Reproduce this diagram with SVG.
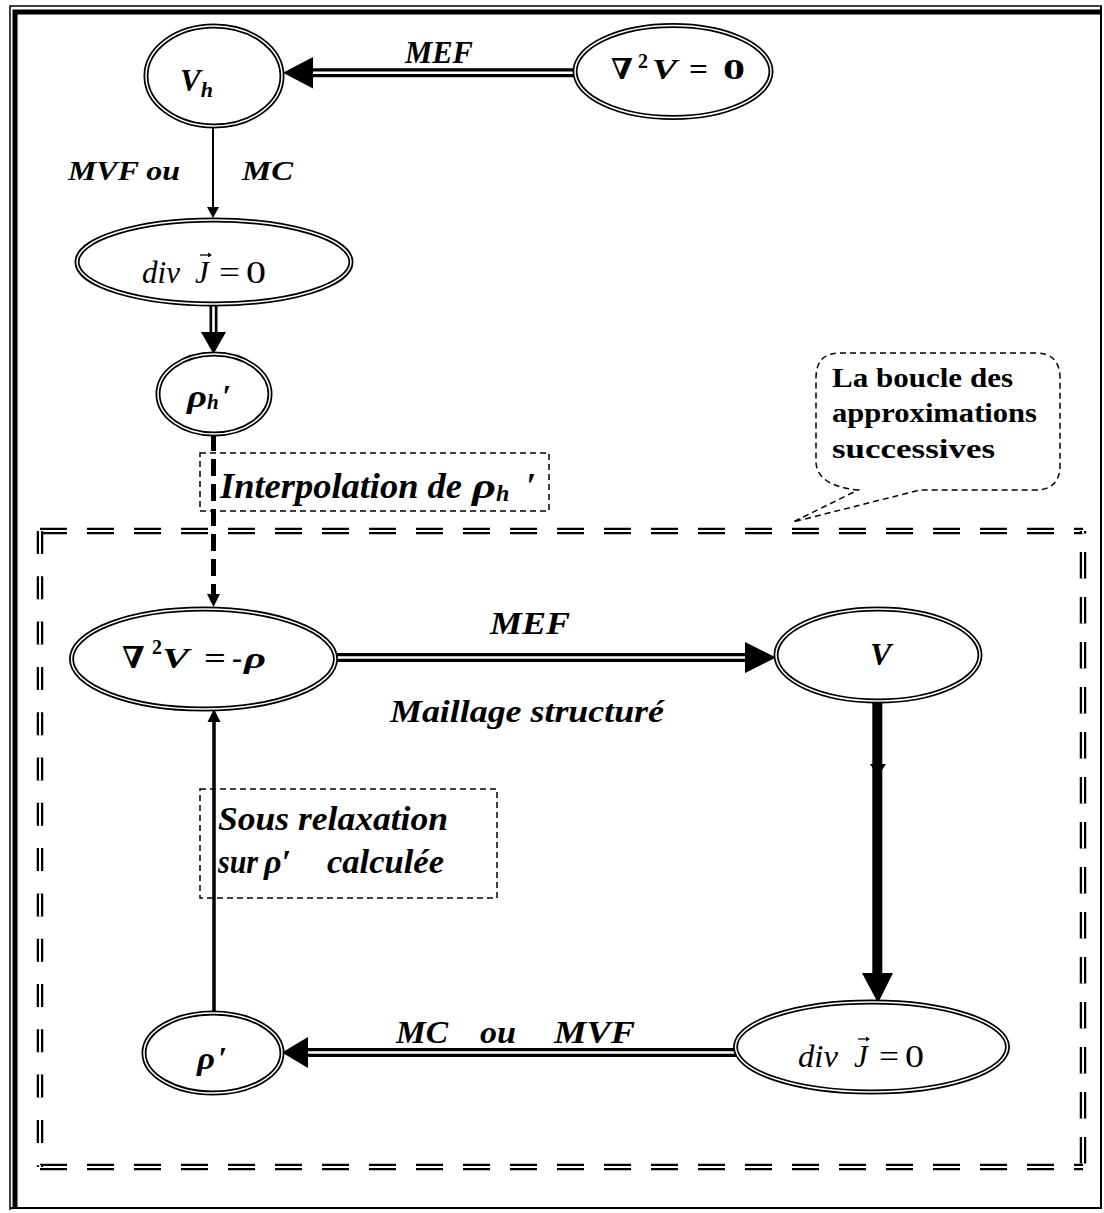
<svg xmlns="http://www.w3.org/2000/svg" width="1104" height="1213" viewBox="0 0 1104 1213">
<style>
text{font-family:"Liberation Serif","DejaVu Serif",serif;fill:#000}
.bi{font-weight:bold;font-style:italic}
.b{font-weight:bold}
.it{font-style:italic}
.node-o{fill:#fff;stroke:#000;stroke-width:5}
.node-i{fill:none;stroke:#fff;stroke-width:1.5}
.dbl-o{stroke:#000;stroke-width:9;fill:none}
.dbl-i{stroke:#fff;stroke-width:2.4;fill:none}
.box{fill:none;stroke:#000;stroke-width:1.5;stroke-dasharray:6 4}
.loop-o{stroke:#000;stroke-width:6.5;fill:none}
.loop-i{stroke:#fff;stroke-width:2;fill:none}
</style>
<rect width="1104" height="1213" fill="#fff"/>
<g id="frame">
<path d="M10,1210 V6 H1102" fill="none" stroke="#000" stroke-width="1.5"/>
<path d="M15,1208 V12 H1101" fill="none" stroke="#000" stroke-width="5"/>
<path d="M1101,6 V1208 H10" fill="none" stroke="#000" stroke-width="2"/>
</g>
<g id="loop">
<path class="loop-o" d="M40,531 H1083" stroke-dasharray="27 20"/>
<path class="loop-i" d="M40,531 H1083" stroke-dasharray="27 20"/>
<path class="loop-o" d="M40,1167 H1083" stroke-dasharray="27 20"/>
<path class="loop-i" d="M40,1167 H1083" stroke-dasharray="27 20"/>
<path class="loop-o" d="M40,531 V1167" stroke-dasharray="23 22.3"/>
<path class="loop-i" d="M40,531 V1167" stroke-dasharray="23 22.3"/>
<path class="loop-o" d="M1083,531 V1167" stroke-dasharray="26.5 18.5" stroke-dashoffset="24"/>
<path class="loop-i" d="M1083,531 V1167" stroke-dasharray="26.5 18.5" stroke-dashoffset="24"/>
</g>
<g id="callout">
<path class="box" d="M840,353 H1035 Q1060,353 1060,378 V465 Q1060,490 1035,490 H920 L793,522 L858,490 Q818,486 816,463 V378 Q816,353 840,353 Z"/>
<text class="b" font-size="27" x="832" y="387" textLength="181" lengthAdjust="spacingAndGlyphs">La boucle des</text>
<text class="b" font-size="27" x="832" y="422" textLength="205" lengthAdjust="spacingAndGlyphs">approximations</text>
<text class="b" font-size="27" x="832" y="458" textLength="163" lengthAdjust="spacingAndGlyphs">successives</text>
</g>
<g id="label-interpolation">
<rect class="box" x="200" y="453" width="349" height="58"/>
<text class="bi" font-size="35" x="220" y="498" textLength="242" lengthAdjust="spacingAndGlyphs">Interpolation de</text>
<text class="bi" font-size="36" x="472" y="498"><tspan textLength="24" lengthAdjust="spacingAndGlyphs">ρ</tspan><tspan font-size="24" dy="3">h</tspan><tspan dy="-3" x="526">′</tspan></text>
</g>
<g id="label-sous-relaxation">
<rect class="box" x="200" y="789" width="297" height="109"/>
<text class="bi" font-size="34" x="218" y="830" textLength="230" lengthAdjust="spacingAndGlyphs">Sous relaxation</text>
<text class="bi" font-size="34" x="218" y="873"><tspan textLength="40" lengthAdjust="spacingAndGlyphs">sur</tspan><tspan x="264">ρ′</tspan><tspan x="327" textLength="117" lengthAdjust="spacingAndGlyphs">calculée</tspan></text>
</g>
<g id="connectors">
<path class="dbl-o" d="M313,72.8 H576"/>
<path class="dbl-i" d="M313,72.8 H576"/>
<polygon points="313,57 313,88.5 283,72.8"/>
<text class="bi" font-size="31" x="405" y="63" textLength="68" lengthAdjust="spacingAndGlyphs">MEF</text>
<line x1="213" y1="127" x2="213" y2="208" stroke="#000" stroke-width="2"/>
<polygon points="207,207 219,207 213,218"/>
<text class="bi" font-size="27" x="68" y="180" textLength="112" lengthAdjust="spacingAndGlyphs">MVF ou</text>
<text class="bi" font-size="27" x="242" y="180" textLength="51" lengthAdjust="spacingAndGlyphs">MC</text>
<path d="M213.5,305 V333" stroke="#000" stroke-width="8" fill="none"/>
<path d="M213.5,305 V333" stroke="#fff" stroke-width="2.6" fill="none"/>
<polygon points="201,332 226,332 213.5,354"/>
<path d="M213.5,434 V596" stroke="#000" stroke-width="5" stroke-dasharray="17 8" fill="none"/>
<polygon points="207,594 220,594 213.5,607"/>
<path class="dbl-o" d="M336,657.5 H746"/>
<path class="dbl-i" d="M336,657.5 H746"/>
<polygon points="745,642 745,673 776,657.5"/>
<text class="bi" font-size="31" x="490" y="634" textLength="80" lengthAdjust="spacingAndGlyphs">MEF</text>
<text class="bi" font-size="31" x="390" y="722" textLength="274" lengthAdjust="spacingAndGlyphs">Maillage structuré</text>
<line x1="877.3" y1="701" x2="877.3" y2="975" stroke="#000" stroke-width="10"/>
<polygon points="870,764 886,764 878,776"/>
<polygon points="862,973 893,973 878,1003"/>
<path class="dbl-o" d="M307,1052.5 H736"/>
<path class="dbl-i" d="M307,1052.5 H736"/>
<polygon points="308,1037 308,1068 282,1052.5"/>
<text class="bi" font-size="31" x="396" y="1043"><tspan textLength="52" lengthAdjust="spacingAndGlyphs">MC</tspan><tspan x="480" textLength="36" lengthAdjust="spacingAndGlyphs">ou</tspan><tspan x="554" textLength="81" lengthAdjust="spacingAndGlyphs">MVF</tspan></text>
<line x1="214" y1="1013" x2="214" y2="721" stroke="#000" stroke-width="3.5"/>
<polygon points="207.5,722 220.5,722 214,709"/>
</g>
<g id="node-Vh">
<ellipse class="node-o" cx="214" cy="76" rx="68" ry="50"/>
<ellipse class="node-i" cx="214" cy="76" rx="68" ry="50"/>
<text class="bi" font-size="31" x="180" y="91">V<tspan font-size="22" dy="6">h</tspan></text>
</g>
<g id="node-laplace0">
<ellipse class="node-o" cx="673" cy="71.5" rx="98" ry="46"/>
<ellipse class="node-i" cx="673" cy="71.5" rx="98" ry="46"/>
<text class="b" font-size="29" y="79"><tspan x="611">∇</tspan><tspan x="638" dy="-11" font-size="20">2</tspan><tspan x="652" dy="11" font-style="italic" textLength="25" lengthAdjust="spacingAndGlyphs">V</tspan><tspan x="689" textLength="19" lengthAdjust="spacingAndGlyphs">=</tspan><tspan x="723" textLength="22" lengthAdjust="spacingAndGlyphs">0</tspan></text>
</g>
<g id="node-divJ-top">
<ellipse class="node-o" cx="214" cy="262" rx="137" ry="42"/>
<ellipse class="node-i" cx="214" cy="262" rx="137" ry="42"/>
<text font-size="31" y="283"><tspan x="142" font-style="italic" textLength="38" lengthAdjust="spacingAndGlyphs">div</tspan><tspan x="195" font-style="italic">J</tspan><tspan x="219" textLength="21" lengthAdjust="spacingAndGlyphs">=</tspan><tspan x="246" textLength="20" lengthAdjust="spacingAndGlyphs">0</tspan></text>
<path d="M200,255 H209" stroke="#000" stroke-width="1.3"/>
<polygon points="208,252.5 212,255 208,257.5"/>
</g>
<g id="node-rhoh">
<ellipse class="node-o" cx="214" cy="394" rx="56" ry="40"/>
<ellipse class="node-i" cx="214" cy="394" rx="56" ry="40"/>
<text class="bi" font-size="32" x="187" y="407"><tspan textLength="20" lengthAdjust="spacingAndGlyphs">ρ</tspan><tspan font-size="21" dy="2">h</tspan><tspan dy="-2" x="222">′</tspan></text>
</g>
<g id="node-poisson">
<ellipse class="node-o" cx="203.5" cy="659" rx="132" ry="50"/>
<ellipse class="node-i" cx="203.5" cy="659" rx="132" ry="50"/>
<text class="b" font-size="30" y="668"><tspan x="122">∇</tspan><tspan x="152" dy="-14" font-size="20">2</tspan><tspan x="162" dy="14" font-style="italic" textLength="27" lengthAdjust="spacingAndGlyphs">V</tspan><tspan x="204" textLength="22" lengthAdjust="spacingAndGlyphs">=</tspan><tspan x="232">-</tspan><tspan x="244" font-style="italic" textLength="22" lengthAdjust="spacingAndGlyphs">ρ</tspan></text>
</g>
<g id="node-V">
<ellipse class="node-o" cx="878" cy="655" rx="102" ry="46"/>
<ellipse class="node-i" cx="878" cy="655" rx="102" ry="46"/>
<text class="bi" font-size="32" x="870" y="665">V</text>
</g>
<g id="node-divJ-bottom">
<ellipse class="node-o" cx="871.5" cy="1047" rx="136" ry="45"/>
<ellipse class="node-i" cx="871.5" cy="1047" rx="136" ry="45"/>
<text font-size="31" y="1067"><tspan x="798" font-style="italic" textLength="40" lengthAdjust="spacingAndGlyphs">div</tspan><tspan x="854" font-style="italic">J</tspan><tspan x="879" textLength="20" lengthAdjust="spacingAndGlyphs">=</tspan><tspan x="905" textLength="19" lengthAdjust="spacingAndGlyphs">0</tspan></text>
<path d="M858,1039 H867" stroke="#000" stroke-width="1.3"/>
<polygon points="866,1036.5 870,1039 866,1041.5"/>
</g>
<g id="node-rho">
<ellipse class="node-o" cx="213" cy="1053" rx="69" ry="40"/>
<ellipse class="node-i" cx="213" cy="1053" rx="69" ry="40"/>
<text class="bi" font-size="32" x="197" y="1069"><tspan textLength="18" lengthAdjust="spacingAndGlyphs">ρ</tspan><tspan x="218">′</tspan></text>
</g>
</svg>
